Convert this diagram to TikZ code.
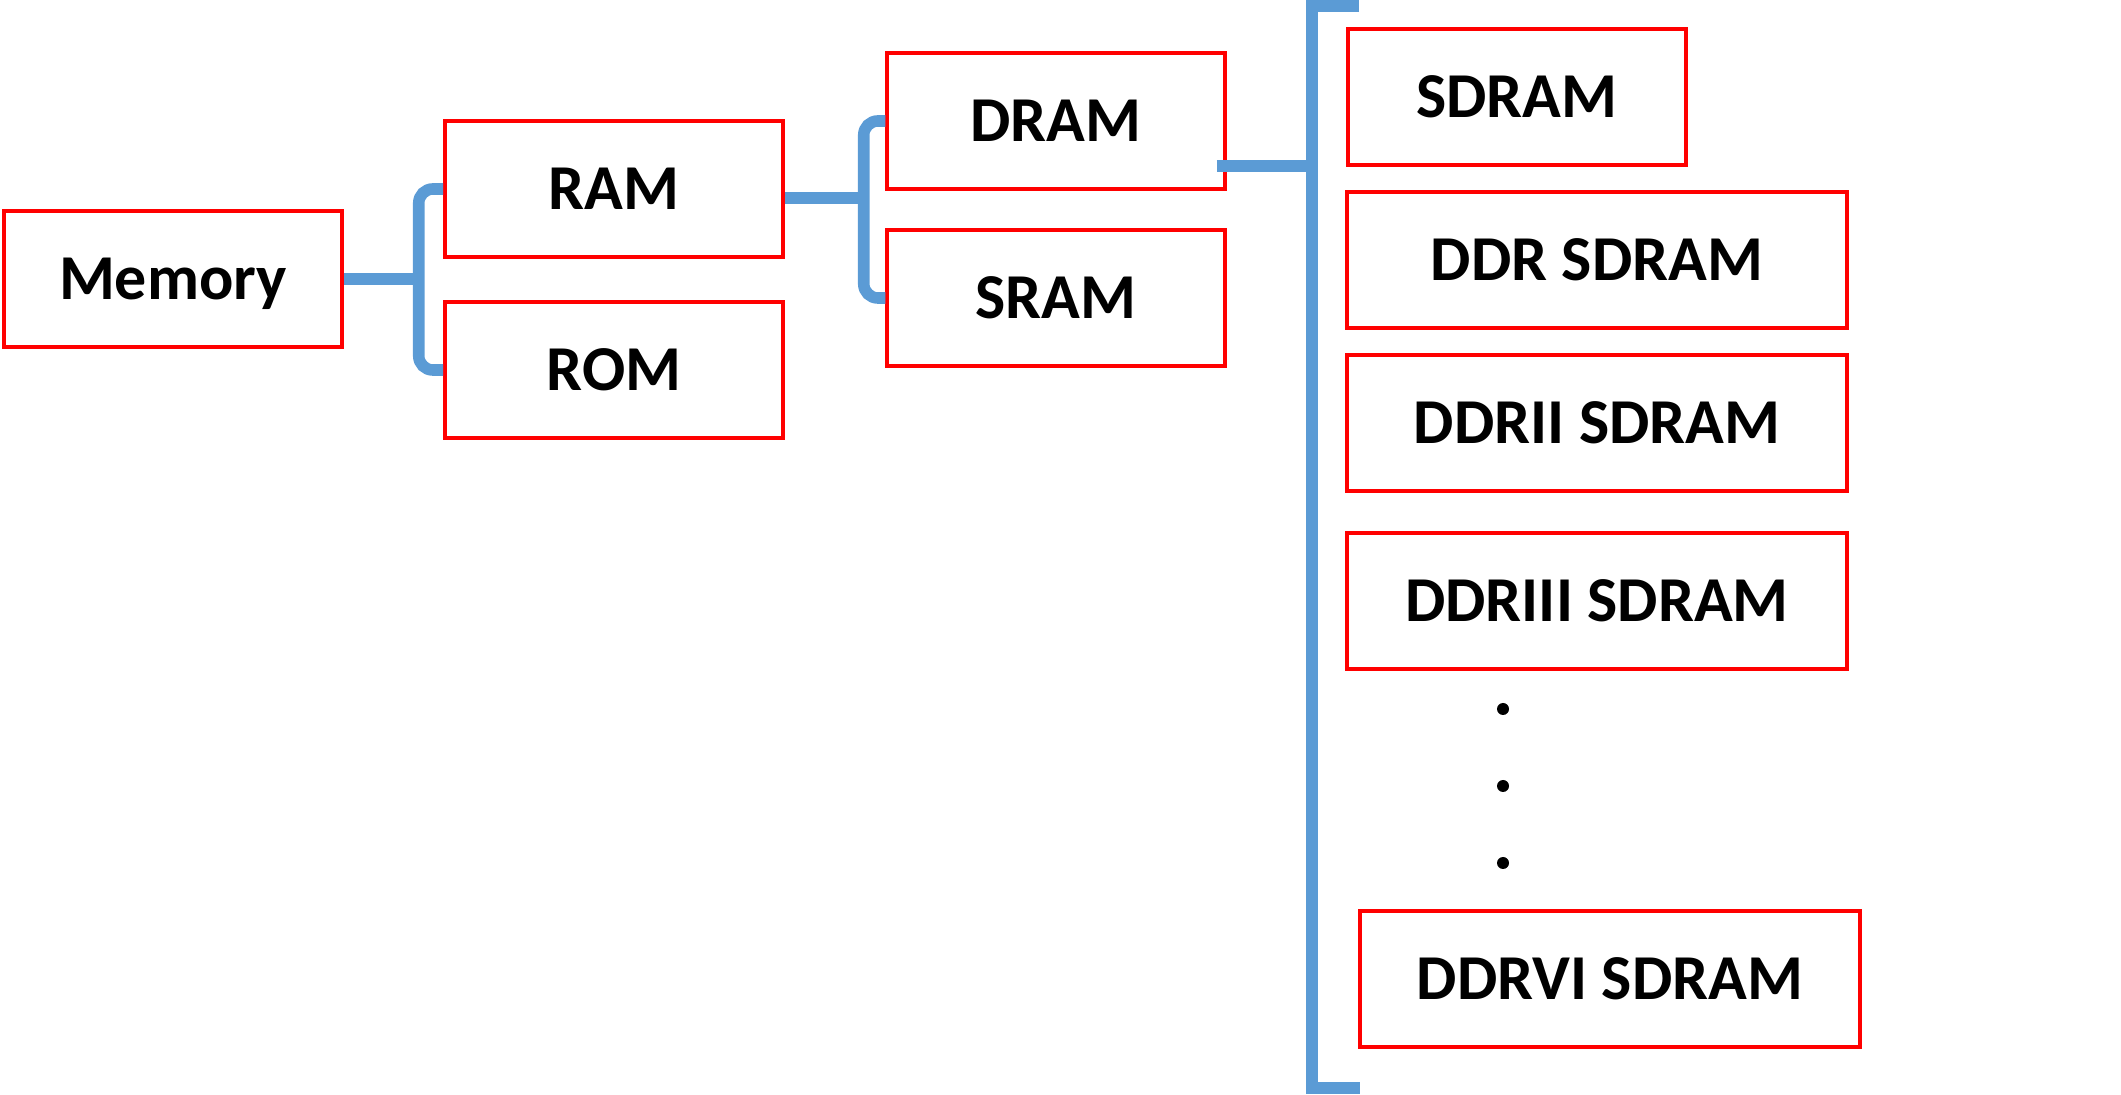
\documentclass[tikz,border=0pt]{standalone}
\usepackage{fontspec}
\setmainfont{Carlito}
\usetikzlibrary{calc}
\definecolor{boxred}{HTML}{FF0000}
\definecolor{wire}{HTML}{5B9BD5}

\begin{document}
\begin{tikzpicture}[
  font=\bfseries\fontsize{18.2}{20}\selectfont,
  box/.style={draw=boxred, line width=1pt, minimum width=3.38cm, minimum height=1.36cm, inner sep=0pt, text depth=0pt},
  wbox/.style={box, minimum width=5.0cm},
  brace/.style={draw=wire, line width=3.3pt, rounded corners=4pt},
  bus/.style={draw=wire, line width=3.4pt, line join=miter},
]
\useasboundingbox (0,-10.95) rectangle (21.21,0);

\node[box] (memory) at (1.73,-2.79) {Memory};
\node[box] (ram) at (6.14,-1.89) {RAM};
\node[box] (rom) at (6.14,-3.70) {ROM};
\node[box] (dram) at (10.56,-1.21) {DRAM};
\node[box] (sram) at (10.56,-2.98) {SRAM};

\node[box] (sdram) at (15.17,-0.97) {SDRAM};
\node[wbox] (ddr) at (15.97,-2.60) {DDR SDRAM};
\node[wbox] (ddr2) at (15.97,-4.23) {DDRII SDRAM};
\node[wbox] (ddr3) at (15.97,-6.01) {DDRIII SDRAM};
\node[wbox] (ddr6) at (16.10,-9.79) {DDRVI SDRAM};

\foreach \y in {-7.09,-7.86,-8.63}
  \fill (15.03,\y) circle (0.06);

\coordinate (fork1) at ($(memory.east)+(0.75,0)$);
\draw[brace] (memory.east) -- (fork1);
\draw[brace] (ram.west) -| (fork1) |- (rom.west);

\coordinate (fork2) at ($(ram.east)+(0.79,-0.09)$);
\draw[brace] ([yshift=-0.09cm]ram.east) -- (fork2);
\draw[brace] (dram.west) -| (fork2) |- (sram.west);

\coordinate (bustop) at (13.12,-0.06);
\coordinate (busbot) at (13.12,-10.88);
\draw[bus] ($(bustop)+(0.47,0)$) -- (bustop) -- (busbot) -- ($(busbot)+(0.48,0)$);
\coordinate (tap) at ([xshift=-0.1cm,yshift=-0.45cm]dram.east);
\draw[bus] (tap) -- (tap -| bustop);
\end{tikzpicture}
\end{document}
